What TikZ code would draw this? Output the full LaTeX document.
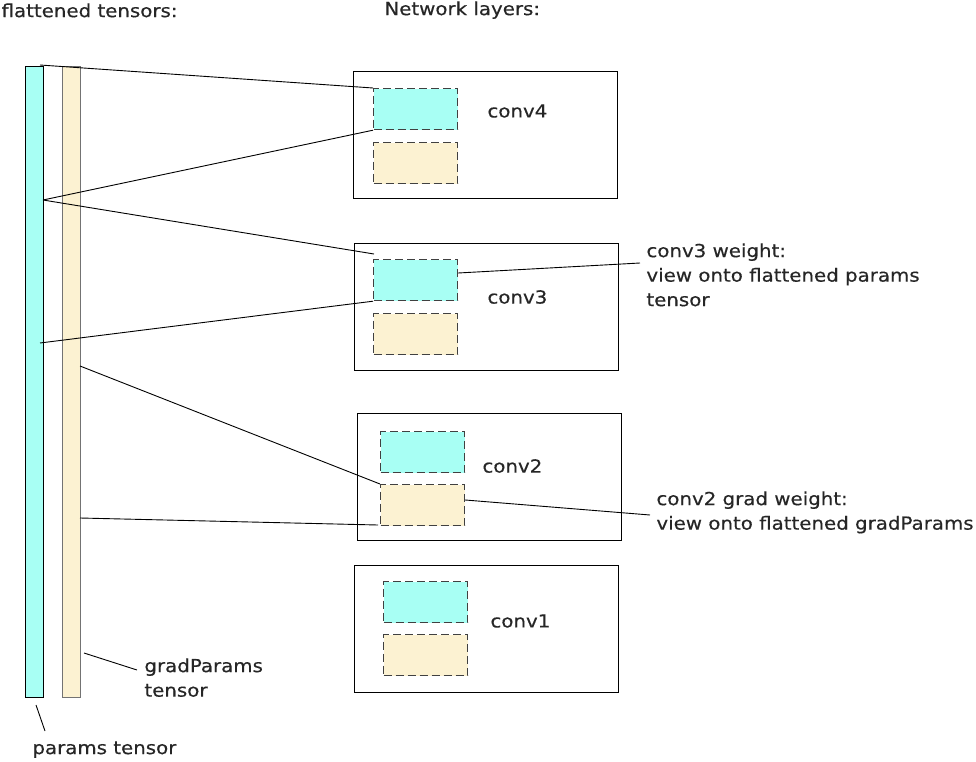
\documentclass[tikz,border=0pt]{standalone}
\usepackage{fontspec}
\setmainfont[FakeStretch=1.1,FakeBold=0.4]{DejaVu Sans}
\definecolor{paramcol}{HTML}{A8FFF4}
\definecolor{gradcol}{HTML}{FCF2D2}
\begin{document}
\begin{tikzpicture}[x=1pt,y=-1pt,line width=0.9pt,font=\fontsize{18}{24.5}\selectfont,
  bar/.style={draw,anchor=north west,inner sep=0pt,minimum width=18pt,minimum height=631pt},
  layer/.style={draw,anchor=north west,inner sep=0pt,minimum width=264pt,minimum height=127pt},
  weightbox/.style={draw=black!75,line width=1.2pt,dash pattern=on 8pt off 4pt,fill=paramcol,anchor=north west,inner sep=0pt,minimum width=84pt,minimum height=41pt},
  gradbox/.style={weightbox,fill=gradcol},
  txt/.style={anchor=north west,inner sep=0pt,align=left,text=black!85}]
\useasboundingbox (0,0) rectangle (976,762);

% flattened tensors
\node[bar,fill=paramcol] (params) at (25,66) {};
\node[bar,fill=gradcol,draw=black!55] (grads) at (62,66) {};

% network layers
\node[layer] (conv4) at (353,71) {};
\node[layer] (conv3) at (354,243) {};
\node[layer] (conv2) at (357,413) {};
\node[layer] (conv1) at (354,565) {};

\node[weightbox] (w4) at (373,88) {};
\node[gradbox] (g4) at (373,142) {};
\node[weightbox] (w3) at (373,259) {};
\node[gradbox] (g3) at (373,313) {};
\node[weightbox] (w2) at (380,431) {};
\node[gradbox] (g2) at (380,484) {};
\node[weightbox] (w1) at (383,581) {};
\node[gradbox] (g1) at (383,634) {};

\node[txt,anchor=west] at (487,111) {conv4};
\node[txt,anchor=west] at (487,297) {conv3};
\node[txt,anchor=west] at (482,466) {conv2};
\node[txt,anchor=west] at (490,621) {conv1};

% titles and notes
\node[txt,anchor=north east] at (178,3) {flattened tensors:};
\node[txt] at (384,1) {Network layers:};
\node[txt] (n3) at (646,243) {conv3 weight:\\view onto flattened params\\tensor};
\node[txt] (n2) at (656,491) {conv2 grad weight:\\view onto flattened gradParams};
\node[txt] (ngrad) at (144,658) {gradParams\\tensor};
\node[txt] (nparams) at (32,741) {params tensor};

% views onto the flat tensors
\coordinate (p0) at (40,65);
\coordinate (p1) at (43,200);
\coordinate (p2) at (40,343);
\coordinate (q1) at (80,366);
\coordinate (q2) at (80,518);
\coordinate (w3top) at (374,254);
\coordinate (g2bot) at (378,525);

\draw (p0) -- (w4.north west);
\draw (p1) -- (w4.south west);
\draw (p1) -- (w3top);
\draw (p2) -- (w3.south west);
\draw (q1) -- (g2.north west);
\draw (q2) -- (g2bot);

% pointers to the notes
\coordinate (n3end) at (640,263);
\coordinate (n2end) at (650,515);
\coordinate (ngend) at (137,670);
\coordinate (ngstart) at (84,653);
\coordinate (npend) at (45,731);
\coordinate (npstart) at (36,705);
\draw (w3.east |- 0,273) -- (n3end);
\draw (g2.east |- 0,500) -- (n2end);
\draw (ngstart) -- (ngend);
\draw (npstart) -- (npend);
\end{tikzpicture}
\end{document}
